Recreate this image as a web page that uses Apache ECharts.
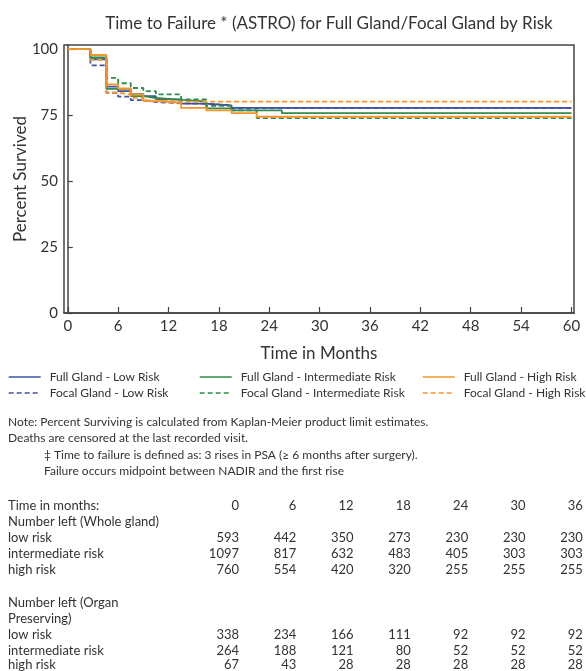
<!DOCTYPE html>
<html>
<head>
<meta charset="utf-8">
<script src="https://cdn.jsdelivr.net/npm/echarts@6/dist/echarts.min.js"></script>
<style>
  html, body { margin: 0; padding: 0; background: #fff; }
  #chart { width: 586px; height: 671px; }
</style>
</head>
<body>
<div id="chart"></div>
<script>
// step times (months) shared by all curves
const months = [0, 2.7, 4.6, 6, 7.5, 9, 10.5, 13.5, 16.5, 19.5, 22.5, 25.5, 60];

const fullLow   = [100, 96.2, 85.8, 84.1, 83.0, 82.2, 81.0, 79.4, 78.7, 77.8, 77.8, 77.8, 77.8];
const focalLow  = [100, 93.9, 83.5, 82.0, 80.7, 80.0, 79.5, 79.3, 78.7, 77.7, 77.7, 77.7, 77.7];
const fullInt   = [100, 96.9, 85.0, 85.0, 82.2, 81.5, 80.8, 80.2, 77.6, 76.8, 76.8, 75.8, 75.8];
const focalInt  = [100, 96.5, 89.1, 87.1, 85.3, 84.1, 82.9, 81.0, 78.5, 76.8, 73.9, 73.9, 73.9];
const fullHigh  = [100, 97.8, 86.7, 85.1, 82.9, 80.3, 79.7, 77.8, 76.8, 75.8, 74.4, 74.4, 74.4];
const focalHigh = [100, 96.0, 83.5, 82.9, 81.6, 80.6, 80.1, 80.1, 80.1, 80.1, 80.1, 80.1, 80.1];

const xTicks = [0, 6, 12, 18, 24, 30, 36, 42, 48, 54, 60];
const yTicks = [0, 25, 50, 75, 100];

const notes = [
  "Note: Percent Surviving is calculated from Kaplan-Meier product limit estimates.",
  "Deaths are censored at the last recorded visit.",
  "\u2021 Time to failure is defined as: 3 rises in PSA (\u2265 6 months after surgery).",
  "Failure occurs midpoint between NADIR and the first rise"
];

const tableMonths = [0, 6, 12, 18, 24, 30, 36];
const wholeLow  = [593, 442, 350, 273, 230, 230, 230];
const wholeInt  = [1097, 817, 632, 483, 405, 303, 303];
const wholeHigh = [760, 554, 420, 320, 255, 255, 255];
const organLow  = [338, 234, 166, 111, 92, 92, 92];
const organInt  = [264, 188, 121, 80, 52, 52, 52];
const organHigh = [67, 43, 28, 28, 28, 28, 28];

const FONT = "Lato";
const TXT = "#333";
const BLUE = "#4152a4";
const GREEN = "#2f8a4b";
const ORANGE = "#f7952b";

function curve(name, vals, color, dashed) {
  return {
    name,
    type: "line",
    step: "end",
    symbol: "none",
    data: months.map((t, i) => [t, vals[i]]),
    lineStyle: { color, width: 1.8, type: dashed ? [5, 3] : "solid" },
    itemStyle: { color },
    emphasis: { disabled: true },
  };
}

const series = [
  curve("Full Gland - Low Risk", fullLow, BLUE, false),
  curve("Focal Gland - Low Risk", focalLow, BLUE, true),
  curve("Full Gland - Intermediate Risk", fullInt, GREEN, false),
  curve("Focal Gland - Intermediate Risk", focalInt, GREEN, true),
  curve("Full Gland - High Risk", fullHigh, ORANGE, false),
  curve("Focal Gland - High Risk", focalHigh, ORANGE, true),
];

// legend layout: 3 columns x 2 rows
const legendCols = [8, 199, 422];
const legendRows = [371, 387];
const legends = series.map((s, i) => ({
  data: [s.name],
  left: legendCols[Math.floor(i / 2)],
  top: legendRows[i % 2],
  itemWidth: 32,
  itemHeight: 14,
  padding: 0,
  selectedMode: false,
  itemStyle: { opacity: 0, borderWidth: 0 },
  lineStyle: { width: 1.4 },
  textStyle: { fontFamily: FONT, fontSize: 12, color: TXT, padding: [0, 0, 0, 4] },
}));

const graphics = [];
const noteX = [8, 8, 44, 44];
const noteY = [422, 438, 455, 471];
notes.forEach((t, i) => {
  graphics.push({
    type: "text", x: noteX[i], y: noteY[i],
    style: { text: t, fontFamily: FONT, fontSize: 12, fill: TXT, verticalAlign: "middle" },
  });
});

const colRight = tableMonths.map((m, i) => 239 + i * 57.3);
function tableRow(label, vals, y) {
  graphics.push({
    type: "text", x: 8, y: y,
    style: { text: label, fontFamily: FONT, fontSize: 13, fill: TXT, verticalAlign: "middle" },
  });
  if (!vals) return;
  vals.forEach((v, i) => {
    graphics.push({
      type: "text", x: colRight[i], y: y,
      style: { text: String(v), fontFamily: FONT, fontSize: 13, fill: TXT, align: "right", verticalAlign: "middle" },
    });
  });
}
tableRow("Time in months:", tableMonths, 506);
tableRow("Number left (Whole gland)", null, 522);
tableRow("low risk", wholeLow, 538);
tableRow("intermediate risk", wholeInt, 554);
tableRow("high risk", wholeHigh, 570);
tableRow("Number left (Organ", null, 603);
tableRow("Preserving)", null, 619);
tableRow("low risk", organLow, 635);
tableRow("intermediate risk", organInt, 651);
tableRow("high risk", organHigh, 665);

const chart = echarts.init(document.getElementById("chart"), null, { renderer: "canvas" });
chart.setOption({
  animation: false,
  backgroundColor: "#fff",
  title: {
    text: "Time to Failure * (ASTRO) for Full Gland/Focal Gland by Risk",
    left: 324, top: 10, textAlign: "center",
    textStyle: { fontFamily: FONT, fontSize: 17, fontWeight: "normal", color: TXT },
  },
  legend: legends,
  grid: {
    show: true, left: 64, right: 12, top: 45, bottom: 358,
    borderColor: "#444", borderWidth: 1.5, backgroundColor: "transparent",
  },
  xAxis: {
    type: "value", min: -0.45, max: 60.3,
    name: "Time in Months", nameLocation: "middle", nameGap: 32,
    nameTextStyle: { fontFamily: FONT, fontSize: 17, color: TXT },
    axisLine: { lineStyle: { color: "#444", width: 1.5 } },
    axisTick: { inside: true, length: 6, customValues: xTicks, lineStyle: { color: "#444", width: 1.2 } },
    axisLabel: { customValues: xTicks, fontFamily: FONT, fontSize: 15, color: TXT, margin: 6 },
    splitLine: { show: false },
  },
  yAxis: {
    type: "value", min: 0, max: 101.6,
    name: "Percent Survived", nameLocation: "middle", nameGap: 35,
    nameMoveOverlap: false,
    nameTextStyle: { fontFamily: FONT, fontSize: 17, color: TXT },
    axisLine: { show: true, lineStyle: { color: "#444", width: 1.5 } },
    axisTick: { show: true, inside: true, length: 5, customValues: yTicks, lineStyle: { color: "#444", width: 1.2 } },
    axisLabel: { customValues: yTicks, fontFamily: FONT, fontSize: 15, color: TXT, margin: 6 },
    splitLine: { show: false },
  },
  series,
  graphic: graphics,
});
</script>
</body>
</html>
